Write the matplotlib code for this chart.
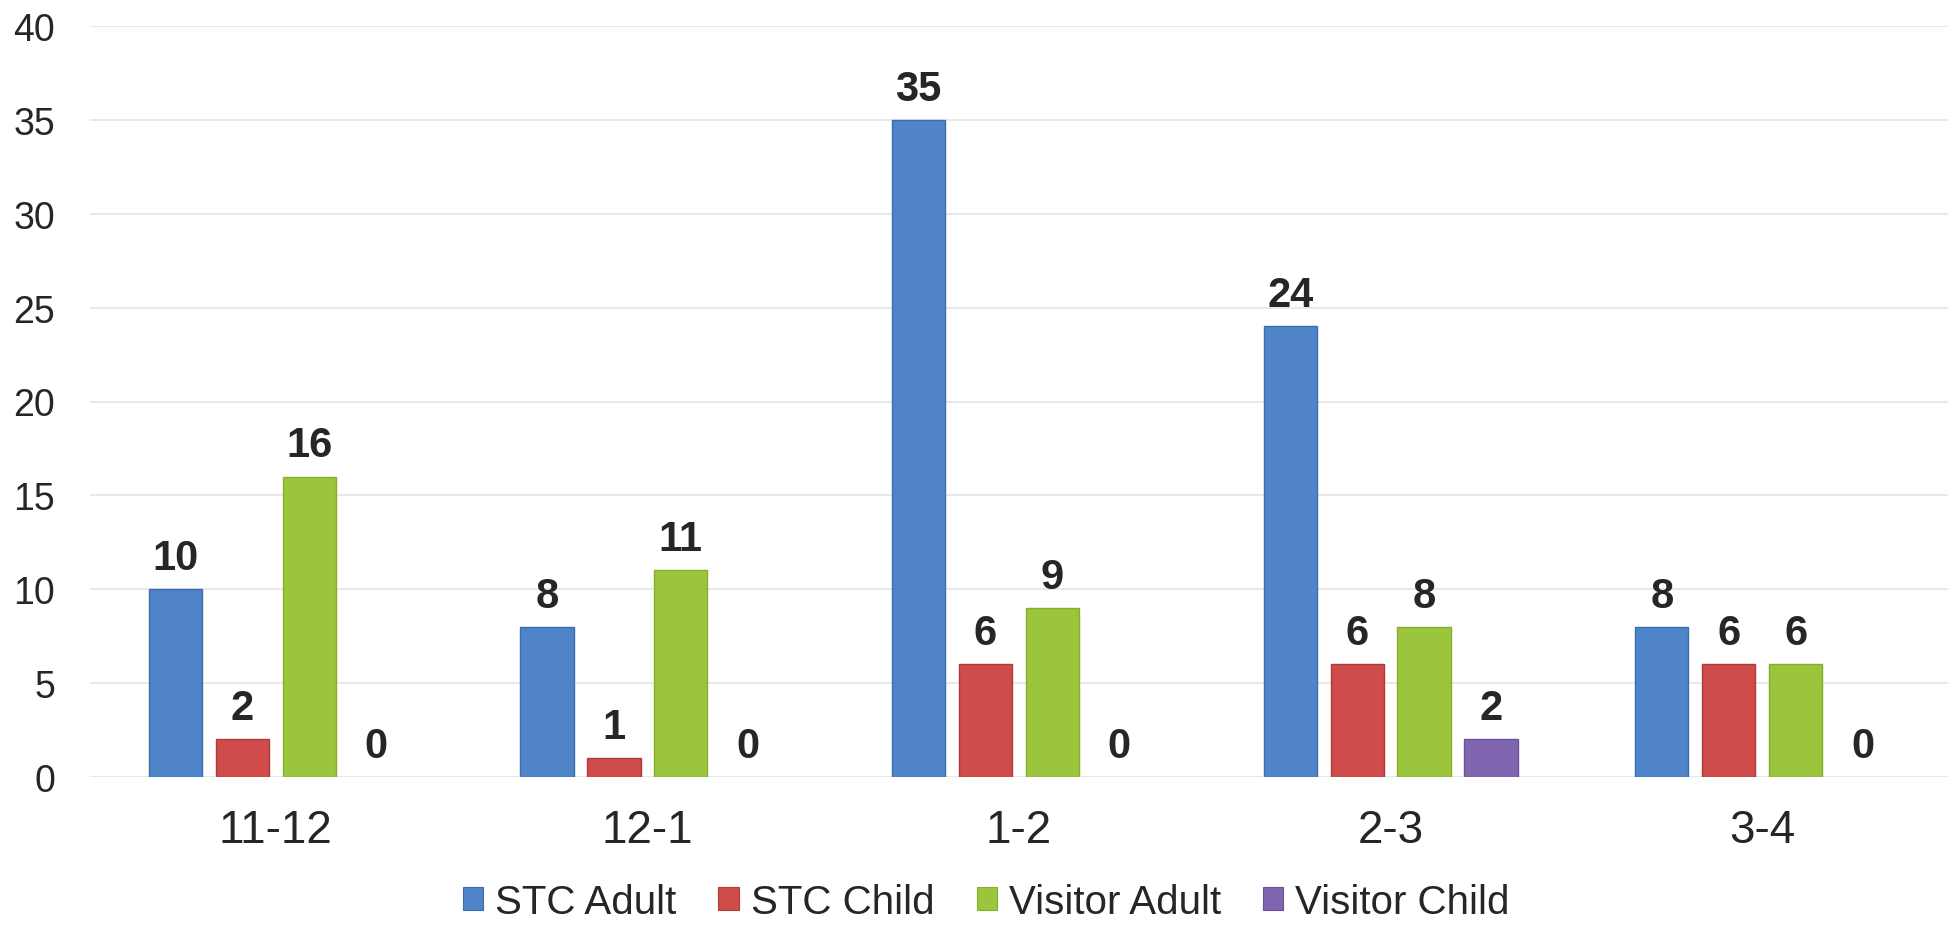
import matplotlib
matplotlib.use("Agg")
import matplotlib.pyplot as plt
from matplotlib.patches import Patch
import numpy as np

categories = ["11-12", "12-1", "1-2", "2-3", "3-4"]
series_names = ["STC Adult", "STC Child", "Visitor Adult", "Visitor Child"]
stc_adult = [10, 8, 35, 24, 8]
stc_child = [2, 1, 6, 6, 6]
visitor_adult = [16, 11, 9, 8, 6]
visitor_child = [0, 0, 0, 2, 0]
colors = ["#4F84C9", "#CF4C4A", "#9CC53E", "#8066B0"]
edges = ["#3D6DAE", "#B23B39", "#86AD2C", "#6A5296"]

plt.rcParams["font.family"] = ["Liberation Sans", "DejaVu Sans"]

fig = plt.figure(figsize=(19.57, 9.28), dpi=100)
ax = fig.add_axes([90 / 1957, 150 / 928, 1858 / 1957, 751 / 928])

x = np.arange(len(categories))
pitch = 0.18
width = 0.143
all_series = [stc_adult, stc_child, visitor_adult, visitor_child]
for i, vals in enumerate(all_series):
    pos = x + (i - 1.5) * pitch
    lws = [1 if v > 0 else 0 for v in vals]
    ax.bar(pos, vals, width=width, color=colors[i], edgecolor=edges[i],
           linewidth=lws, zorder=3)
    for xp, v in zip(pos, vals):
        ax.annotate(str(v), (xp, v), xytext=(0, 8), textcoords="offset points",
                    ha="center", va="bottom", fontsize=30, fontweight="bold",
                    color="#262626", zorder=4)

ax.set_xlim(-0.5, 4.5)
ax.set_ylim(0, 40)
ax.set_yticks(range(0, 41, 5))
ax.set_xticks(x)
ax.set_xticklabels(categories)
ax.yaxis.grid(True, color="#e4e4e4", linewidth=1.2, zorder=0)
ax.set_axisbelow(True)
for s in ax.spines.values():
    s.set_visible(False)
ax.tick_params(axis="y", length=0, pad=25, labelsize=27, labelcolor="#262626")
ax.tick_params(axis="x", length=0, pad=22, labelsize=33, labelcolor="#262626")

handles = [Patch(facecolor=c, edgecolor=e, linewidth=0.8) for c, e in zip(colors, edges)]
fig.legend(handles, series_names, loc="center", bbox_to_anchor=(0.504, 0.027),
           ncol=4, frameon=False, fontsize=29, handlelength=0.5, handleheight=0.5,
           handletextpad=0.3, columnspacing=1.05, labelcolor="#262626")

fig.savefig("out.png", dpi=100, facecolor="white")
